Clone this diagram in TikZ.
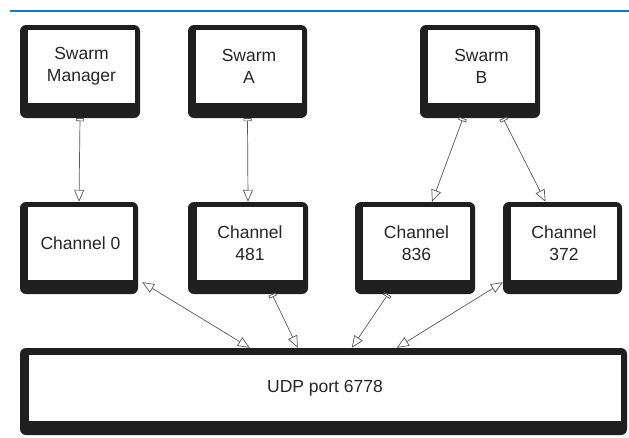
\documentclass[tikz,border=0pt]{standalone}
\usepackage{fontspec}
\setmainfont{Liberation Sans}
\usetikzlibrary{arrows.meta,calc,fit}
\begin{document}
\begin{tikzpicture}[x=1pt,y=-1pt,
  frame/.style={fill=black!88, draw=none, rounded corners=6pt, inner sep=0pt},
  inbox/.style={fill=white, draw=none, inner sep=0pt, align=center,
    font=\fontsize{17.5}{22}\selectfont, text=black!85},
  conn/.style={draw=black!65, line width=0.7pt},
  one/.style={conn, {Rectangle[open,length=3pt,width=8pt]}-{Triangle[open,length=12pt,width=10pt]}},
  both/.style={conn, {Triangle[open,length=12pt,width=10pt]}-{Triangle[open,length=12pt,width=10pt]}}
]
\useasboundingbox (0,0) rectangle (629,437);
\draw[line width=1.3pt, draw={rgb,255:red,20;green,120;blue,195}] (10,11) -- (629,11);

% outer frames
\node[frame, fit={(20,25) (140,118)}] (mgr) {};
\node[frame, fit={(188,25) (307,118)}] (sa) {};
\node[frame, fit={(420,25) (540,118)}] (sb) {};
\node[frame, fit={(20,202) (138,294)}] (c0) {};
\node[frame, fit={(188,202) (308,294)}] (c481) {};
\node[frame, fit={(355,202) (475,294)}] (c836) {};
\node[frame, fit={(503,202) (622,294)}] (c372) {};
\node[frame, fit={(20,348) (627,435)}] (udp) {};

% inner faces with text
\node[inbox, minimum width=107, minimum height=73] (mgrT) at (81.5,66.5) {Swarm\\Manager};
\node[inbox, minimum width=106, minimum height=73] (saT) at (249,66.5) {Swarm\\A};
\node[inbox, minimum width=107, minimum height=73] (sbT) at (481.5,66.5) {Swarm\\B};
\node[inbox, minimum width=105, minimum height=73] (c0T) at (80.5,243.5) {Channel 0};
\node[inbox, minimum width=106, minimum height=73] (c481T) at (250,243.5) {Channel\\481};
\node[inbox, minimum width=107, minimum height=73] (c836T) at (416.5,243.5) {Channel\\836};
\node[inbox, minimum width=106, minimum height=73] (c372T) at (564,243.5) {Channel\\372};
\node[inbox, minimum width=592, minimum height=66] (udpT) at (325,388) {UDP port 6778};

% connectors
\draw[one] (mgr.south) -- (c0.north);
\draw[one] (sa.south) -- (c481.north);
\draw[one] ($(sb.south)+(-17,0)$) -- ($(c836.north)+(17,0)$);
\draw[one] ($(sb.south)+(23,0)$) -- ($(c372.north)+(-17,0)$);
\draw[both] ($(c0.south east)+(4,-12)$) -- ($(udp.north west)+(230,0)$);
\draw[one] ($(c481.south)+(24,0)$) -- ($(udp.north west)+(278,0)$);
\draw[one] ($(c836.south)+(-27,0)$) -- ($(udp.north west)+(332,0)$);
\draw[both] ($(c372.south west)+(0,-12)$) -- ($(udp.north west)+(377,0)$);
\end{tikzpicture}
\end{document}
